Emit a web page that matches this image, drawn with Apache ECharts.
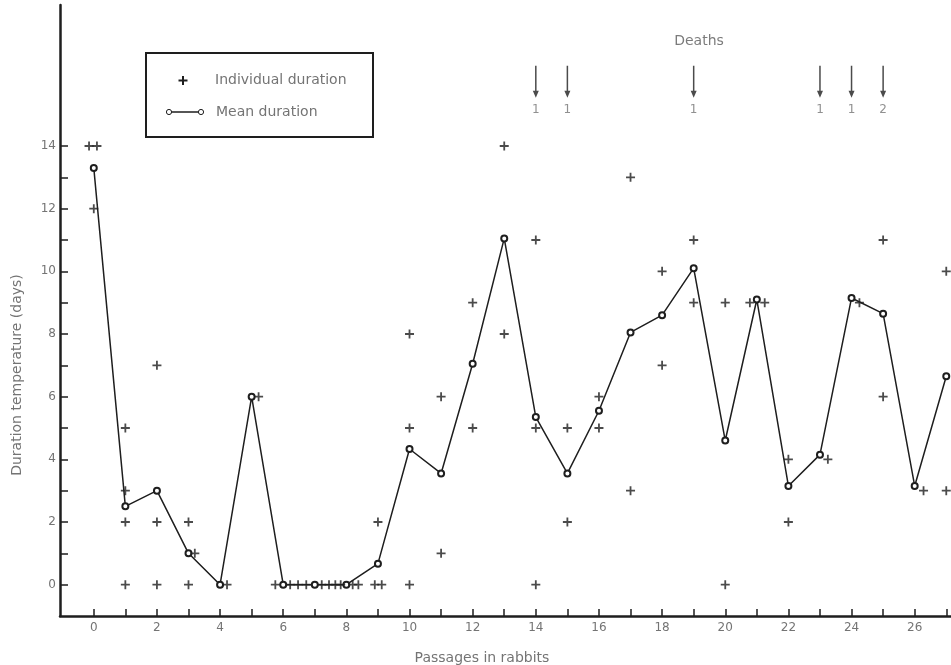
<!DOCTYPE html>
<html>
<head>
<meta charset="utf-8">
<script src="https://cdn.jsdelivr.net/npm/echarts@6/dist/echarts.min.js"></script>
<style>
html,body{margin:0;padding:0;background:#fff;}
#chart{width:951px;height:665px;}
</style>
</head>
<body>
<div id="chart"></div>
<script>
// ---- data ----
const passages = [0,1,2,3,4,5,6,7,8,9,10,11,12,13,14,15,16,17,18,19,20,21,22,23,24,25,26,27];
const meanDuration = [13.3,2.5,3,1,0,6,0,0,0,0.67,4.33,3.55,7.05,11.05,5.35,3.55,5.55,8.05,8.6,10.1,4.6,9.1,3.15,4.15,9.15,8.65,3.15,6.65];
// individual durations: x = passage (with small offset where marks are drawn side by side), y = days
const indPassage = [-0.15,0.1,0,
  1,1,1,1,
  2,2,2,
  3,3.2,3,
  4.22,
  5.22,
  5.75,6.22,6.47,6.73,7.22,7.45,7.65,7.82,8.2,8.38,
  9,8.9,9.12,
  10,10,10,
  11,11,
  12,12,
  13,13,
  14,14,14,
  15,15,
  16,16,
  17,17,
  18,18,
  19,19,
  20,20,
  20.78,21.25,
  22,22,
  23.25,
  24.25,
  25,25,
  26.28,
  27,27];
const indDays = [14,14,12,
  5,3,2,0,
  7,2,0,
  2,1,0,
  0,
  6,
  0,0,0,0,0,0,0,0,0,0,
  2,0,0,
  8,5,0,
  6,1,
  9,5,
  14,8,
  11,5,0,
  5,2,
  6,5,
  13,3,
  10,7,
  11,9,
  9,0,
  9,9,
  4,2,
  4,
  9,
  11,6,
  3,
  10,3];
const deathPassages = [14,15,19,23,24,25];
const deathCounts = [1,1,1,1,1,2];
const xTickValues = [0,1,2,3,4,5,6,7,8,9,10,11,12,13,14,15,16,17,18,19,20,21,22,23,24,25,26,27];
const xLabelValues = [0,2,4,6,8,10,12,14,16,18,20,22,24,26];
const yTickValues = [0,1,2,3,4,5,6,7,8,9,10,11,12,13,14];
const yLabelValues = [0,2,4,6,8,10,12,14];

// ---- chart ----
const INK = '#1e1e1e';
const GREY = '#747474';
const FONT = '"DejaVu Sans", "Liberation Sans", sans-serif';
const PLUS = 'path://M4,0h2v4h4v2h-4v4h-2v-4h-4v-2h4z';
const ARROW = 'path://M2.25,0H3.75V25H2.25Z M0,25L3,32L6,25Z';

const chart = echarts.init(document.getElementById('chart'), null, {renderer:'canvas'});
const option = {
  backgroundColor: '#fff',
  animation: false,
  grid: {left: 60, top: 5, width: 891, height: 611, containLabel: false},
  xAxis: {
    type: 'value', min: -1.07, max: 27.15,
    axisLine: {show: true, onZero: false, lineStyle: {color: INK, width: 2.5}},
    axisTick: {show: true, inside: true, length: 7, customValues: xTickValues, lineStyle: {color: INK, width: 1.5}},
    axisLabel: {show: true, customValues: xLabelValues, color: GREY, fontSize: 12, fontFamily: FONT, margin: 6},
    splitLine: {show: false}
  },
  yAxis: {
    type: 'value', min: -1, max: 18.5,
    axisLine: {show: true, onZero: false, lineStyle: {color: INK, width: 2.5}},
    axisTick: {show: true, inside: true, length: 8, customValues: yTickValues, lineStyle: {color: INK, width: 1.5}},
    axisLabel: {show: true, customValues: yLabelValues, color: GREY, fontSize: 12, fontFamily: FONT, margin: 4},
    splitLine: {show: false}
  },
  series: [
    {
      name: 'Mean duration', type: 'line', z: 2,
      data: passages.map((p, i) => [p, meanDuration[i]]),
      symbol: 'emptyCircle', symbolSize: 6, showSymbol: true,
      lineStyle: {color: INK, width: 1.5},
      itemStyle: {color: INK, borderColor: INK, borderWidth: 1}
    },
    {
      name: 'Individual duration', type: 'scatter', z: 3,
      data: indPassage.map((p, i) => [p, indDays[i]]),
      symbol: PLUS, symbolSize: 9,
      itemStyle: {color: INK}
    },
    {
      name: 'Deaths arrows', type: 'scatter', z: 3,
      data: deathPassages.map(p => [p, 16.05]),
      symbol: ARROW, symbolSize: [6, 32],
      itemStyle: {color: INK}
    },
    {
      name: 'Deaths counts', type: 'scatter', z: 3,
      data: deathPassages.map((p, i) => ({value: [p, 15.15], count: deathCounts[i]})),
      symbolSize: 0,
      label: {show: true, position: 'inside', formatter: p => String(p.data.count), color: GREY, fontSize: 12, fontFamily: FONT}
    },
    {
      name: 'Deaths title', type: 'scatter', z: 3,
      data: [{value: [19.17, 17.35]}],
      symbolSize: 0,
      label: {show: true, position: 'inside', formatter: 'Deaths', color: '#5a5a5a', fontSize: 14, fontFamily: FONT}
    }
  ],
  graphic: [
    {type: 'rect', shape: {x: 146, y: 53, width: 227, height: 84}, style: {fill: 'none', stroke: INK, lineWidth: 2}},
    {type: 'rect', shape: {x: 182, y: 76, width: 2, height: 9}, style: {fill: INK}},
    {type: 'rect', shape: {x: 178.5, y: 79.5, width: 9, height: 2}, style: {fill: INK}},
    {type: 'text', x: 215, y: 80, style: {text: 'Individual duration', fill: GREY, font: '14px ' + FONT, textVerticalAlign: 'middle'}},
    {type: 'line', shape: {x1: 170, y1: 112, x2: 200, y2: 112}, style: {stroke: INK, lineWidth: 1.5}},
    {type: 'circle', shape: {cx: 169, cy: 112, r: 2.6}, style: {fill: '#fff', stroke: INK, lineWidth: 1}},
    {type: 'circle', shape: {cx: 201, cy: 112, r: 2.6}, style: {fill: '#fff', stroke: INK, lineWidth: 1}},
    {type: 'text', x: 216, y: 112, style: {text: 'Mean duration', fill: GREY, font: '14px ' + FONT, textVerticalAlign: 'middle'}},
    {type: 'text', x: 17, y: 375, rotation: Math.PI / 2, style: {text: 'Duration temperature (days)', fill: GREY, font: '14px ' + FONT, textAlign: 'center', textVerticalAlign: 'middle'}},
    {type: 'text', x: 482, y: 658, style: {text: 'Passages in rabbits', fill: GREY, font: '14px ' + FONT, textAlign: 'center', textVerticalAlign: 'middle'}}
  ]
};
chart.setOption(option);
</script>
</body>
</html>
